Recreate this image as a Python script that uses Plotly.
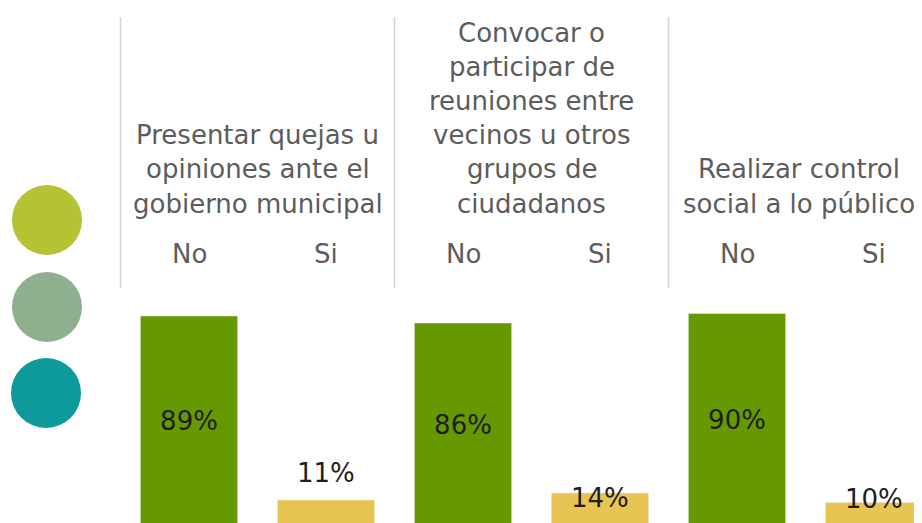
import plotly.graph_objects as go

# ---- data ----
group_titles = [
    ["Presentar quejas u", "opiniones ante el", "gobierno municipal"],
    ["Convocar o", "participar de", "reuniones entre", "vecinos u otros", "grupos de", "ciudadanos"],
    ["Realizar control", "social a lo público"],
]
answers = ["No", "Si"]
no_values = [89, 86, 90]
si_values = [11, 14, 10]

# ---- style ----
OFF = 8                      # page body margin
W, H = 922 - OFF, 523 - OFF
GREEN = "#669900"
YELLOW = "#e8c452"
HEAD_COLOR = "#5c5c5c"
LABEL_COLOR = "#1e1e1e"
HEAD_FONT = dict(family="DejaVu Sans", size=26, color=HEAD_COLOR)
LABEL_FONT = dict(family="DejaVu Sans", size=26, color=LABEL_COLOR)
si_label_shift = [27, -5, 3]      # pixel offsets of the "Si" labels
title_xshift = [0, 0, -7]         # keep last title inside the visible page


def py(p):  # reference pixel y -> paper
    return 1 - (p - OFF) / H


def px(p):  # reference pixel x -> paper
    return (p - OFF) / W


x0_ref, dx = 189, 137
y0_ref, dy = 526, 2.36
x_range = [(OFF - x0_ref) / dx, (OFF + W - x0_ref) / dx]
y_range = [(y0_ref - (OFF + H)) / dy, (y0_ref - OFF) / dy]

n = len(group_titles)
x_no = [2 * g for g in range(n)]
x_si = [2 * g + 1 for g in range(n)]

fig = go.Figure()
fig.add_trace(go.Bar(
    x=x_no, y=no_values, marker_color=GREEN, width=0.71,
    text=[f"{v}%" for v in no_values], textposition="inside",
    insidetextanchor="middle", textfont=LABEL_FONT,
    showlegend=False, hoverinfo="skip",
))
fig.add_trace(go.Bar(
    x=x_si, y=si_values, marker_color=YELLOW, width=0.71,
    showlegend=False, hoverinfo="skip",
))

annotations = []
for x, v, s in zip(x_si, si_values, si_label_shift):
    annotations.append(dict(x=x, y=v, xref="x", yref="y", text=f"{v}%",
                            showarrow=False, font=LABEL_FONT,
                            yanchor="middle", yshift=s))
LINE = 34.2
for g, lines in enumerate(group_titles):
    xc = 2 * g + 0.5
    last = 203.5
    for i, line in enumerate(lines):
        yp = last - (len(lines) - 1 - i) * LINE
        annotations.append(dict(x=xc, y=py(yp), xref="x", yref="paper",
                                text=line, showarrow=False, font=HEAD_FONT,
                                yanchor="middle", xshift=title_xshift[g]))
    for j, a in enumerate(answers):
        annotations.append(dict(x=2 * g + j, y=py(254), xref="x", yref="paper",
                                text=a, showarrow=False, font=HEAD_FONT,
                                yanchor="middle"))

shapes = []
for g in range(n + 1):
    shapes.append(dict(type="line", xref="x", yref="paper",
                       x0=2 * g - 0.5, x1=2 * g - 0.5, y0=py(288), y1=py(17),
                       line=dict(color="#d4d4d4", width=1.5)))
for (cx, cy, col) in [(47, 220, "#b4c233"), (47, 307, "#8eb08e"), (46, 393, "#0e9a9a")]:
    r = 35
    shapes.append(dict(type="circle", xref="paper", yref="paper",
                       x0=px(cx - r), x1=px(cx + r), y0=py(cy + r), y1=py(cy - r),
                       fillcolor=col, line=dict(width=0)))

fig.update_layout(
    width=W, height=H,
    margin=dict(l=0, r=0, t=0, b=0),
    paper_bgcolor="white", plot_bgcolor="white",
    xaxis=dict(range=x_range, visible=False),
    yaxis=dict(range=y_range, visible=False),
    annotations=annotations, shapes=shapes,
)

fig.write_html("out.html")
